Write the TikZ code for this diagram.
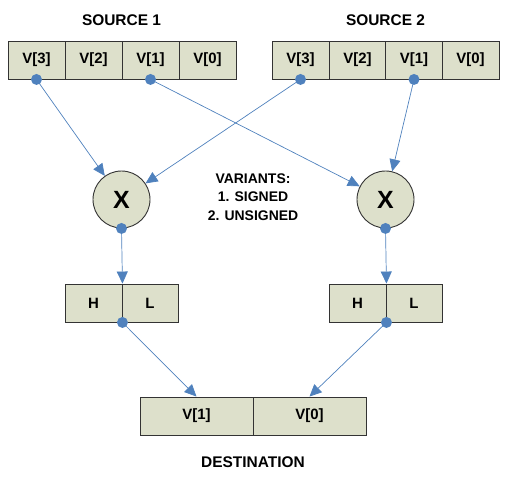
\documentclass[tikz,border=0pt]{standalone}
\usepackage{fontspec}
\setmainfont{Liberation Sans}
\usetikzlibrary{shapes,arrows.meta}
\definecolor{cellfill}{HTML}{DDE0CB}
\definecolor{wireblue}{HTML}{4F81BD}
\newcommand{\wordcell}[5][57]{
  \node[cell, minimum width=#1bp] (#2) at (#3,#4) {#5};
}
\tikzset{
  cell/.style  = {draw=black!80, line width=0.9bp, fill=cellfill,
                  minimum height=38bp, inner sep=0pt,
                  font=\bfseries\fontsize{15}{17}\selectfont},
  mult/.style  = {circle, draw=black!80, line width=0.9bp, fill=cellfill,
                  minimum size=57bp, inner sep=0pt,
                  font=\bfseries\fontsize{25}{27}\selectfont},
  tap/.style   = {circle, fill=wireblue, minimum size=11bp, inner sep=0pt},
  wire/.style  = {draw=wireblue, line width=0.7bp,
                  -{Triangle[length=12bp, width=11bp]}},
  caption/.style = {font=\bfseries\fontsize{15.5}{17}\selectfont}
}

\begin{document}
\begin{tikzpicture}[x=1bp, y=-1bp]
  \useasboundingbox (0,0) rectangle (509,482);

  % sources
  \node[caption] (srcA) at (121.5,20) {SOURCE 1};
  \node[caption] (srcB) at (385.5,20) {SOURCE 2};
  \wordcell{a3}{36.5}{60}{V[3]}
  \wordcell{a2}{93.5}{60}{V[2]}
  \wordcell{a1}{150.5}{60}{V[1]}
  \wordcell{a0}{207.5}{60}{V[0]}
  \wordcell{b3}{300.5}{60}{V[3]}
  \wordcell{b2}{357.5}{60}{V[2]}
  \wordcell{b1}{414}{60}{V[1]}
  \wordcell{b0}{470.5}{60}{V[0]}

  % multipliers
  \node[mult] (mulA) at (121.5,199.5) {X};
  \node[mult] (mulB) at (385.5,199.5) {X};
  \node[align=center, font=\bfseries\fontsize{14}{18.5}\selectfont]
    (note) at (253,197) {VARIANTS:\\1. SIGNED\\2. UNSIGNED};

  % products
  \wordcell{hA}{93.5}{303}{H}
  \wordcell[56]{lA}{150}{303}{L}
  \wordcell{hB}{357.5}{303}{H}
  \wordcell[56]{lB}{414}{303}{L}

  % destination
  \wordcell[113]{d1}{196.5}{416}{V[1]}
  \wordcell[113]{d0}{309.5}{416}{V[0]}
  \node[caption] (dst) at (253,462) {DESTINATION};

  % taps
  \node[tap] (ta3) at (a3.south) {};
  \node[tap] (ta1) at (a1.south) {};
  \node[tap] (tb3) at (b3.south) {};
  \node[tap] (tb1) at (b1.south) {};
  \node[tap] (tmA) at (mulA.south) {};
  \node[tap] (tmB) at (mulB.south) {};
  \node[tap] (tpA) at (hA.south east) {};
  \node[tap] (tpB) at (hB.south east) {};

  % wires
  \draw[wire] (ta3.center) -- (mulA);
  \draw[wire] (tb3.center) -- (mulA);
  \draw[wire] (ta1.center) -- (mulB);
  \draw[wire] (tb1.center) -- (mulB);
  \draw[wire] (tmA.center) -- (hA.north east);
  \draw[wire] (tmB.center) -- (hB.north east);
  \draw[wire] (tpA.center) -- (d1.north);
  \draw[wire] (tpB.center) -- (d0.north);
\end{tikzpicture}
\end{document}
